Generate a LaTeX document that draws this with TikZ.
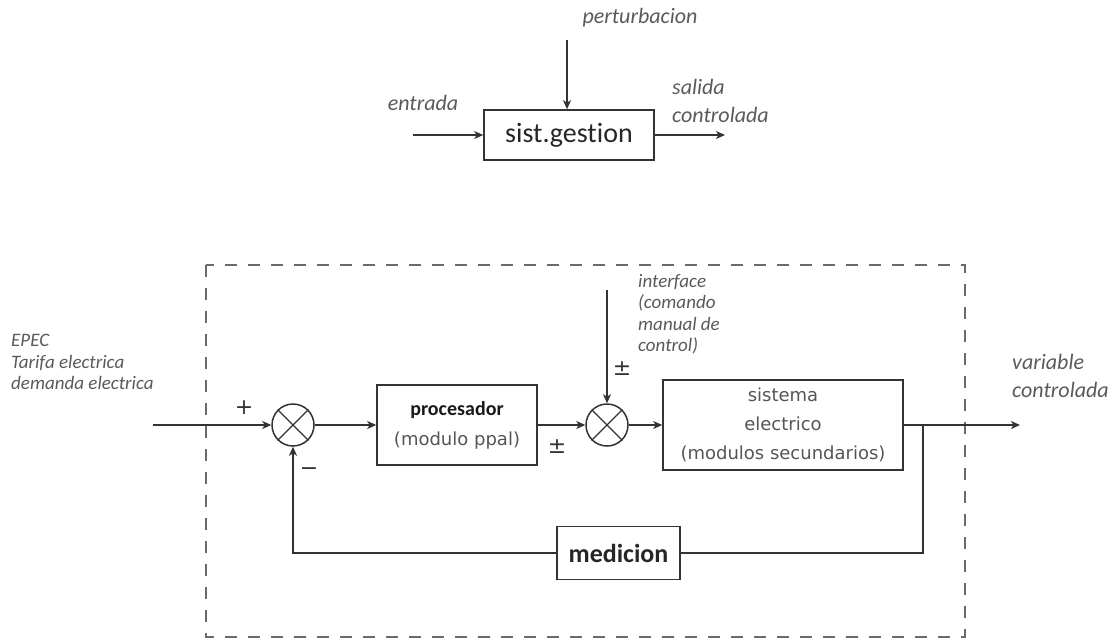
\documentclass[tikz,border=0pt]{standalone}
\usepackage{fontspec}
\setmainfont{Carlito}[Ligatures={NoCommon}]
\newfontfamily\dejavu{DejaVu Sans}
\usetikzlibrary{arrows.meta}
\definecolor{linec}{HTML}{333333}
\definecolor{labelc}{HTML}{5A5A5A}
\definecolor{boxtxt}{HTML}{555555}
\definecolor{dashc}{HTML}{6A6A6A}
\tikzset{
  wire/.style={draw=linec, line width=1.5pt},
  flow/.style={wire, -{Stealth[length=9pt,width=8pt,inset=2.5pt]}},
  blk/.style={draw=linec, line width=1.6pt, inner sep=0pt, align=center},
  sumj/.style={circle, draw=linec, line width=1.5pt, minimum size=42pt, inner sep=0pt},
  lbl/.style={text=labelc, font=\itshape, inner sep=0pt, align=left},
  sign/.style={text=linec, font=\dejavu\fontsize{22}{22}\selectfont, inner sep=0pt},
  frame/.style={draw=dashc, line width=2pt, dash pattern=on 12pt off 11pt}
}
\begin{document}
\begin{tikzpicture}[x=1pt,y=-1pt]
\useasboundingbox (0,0) rectangle (1115,640);

% --- upper block: general management system ---
\node[blk, minimum width=170pt, minimum height=50pt,
      font=\fontsize{28}{28}\selectfont, text=black!85] (sg) at (569,135) {sist.gestion};
\coordinate (ein) at (413,135);
\coordinate (sout) at (725,135);
\coordinate (ptop) at (567,40);
\draw[flow] (ein) -- (sg.west);
\draw[flow] (sg.east) -- (sout);
\draw[flow] (ptop) -- (sg.north -| ptop);
\node[lbl, font=\itshape\fontsize{22}{22}\selectfont] (lent) at (423,103) {entrada};
\node[lbl, font=\itshape\fontsize{22}{22}\selectfont] (lper) at (640,18) {perturbacion};
\node[lbl, anchor=west, font=\itshape\fontsize{22}{28}\selectfont] (lsal) at (672,101) {salida\\controlada};

% --- lower diagram: closed control loop ---
\draw[frame] (206,265) rectangle (965,637);

\node[sumj] (s1) at (293,425) {};
\node[sumj] (s2) at (607,425) {};
\foreach \s in {s1,s2}{
  \draw[linec, line width=1.2pt] (\s.north east) -- (\s.south west);
  \draw[linec, line width=1.2pt] (\s.north west) -- (\s.south east);
}

\node[blk, minimum width=160pt, minimum height=80pt,
      font=\dejavu\fontsize{18}{30}\selectfont, text=boxtxt] (proc) at (457,425)
  {{\rmfamily\bfseries\fontsize{20}{20}\selectfont\color{black!90}procesador}\\(modulo ppal)};
\node[blk, minimum width=240pt, minimum height=90pt,
      font=\dejavu\fontsize{18}{29}\selectfont, text=boxtxt] (sys) at (783,425)
  {sistema\\electrico\\(modulos secundarios)};
\node[blk, minimum width=123pt, minimum height=53pt,
      font=\bfseries\fontsize{26}{26}\selectfont, text=black!85] (med) at (618.5,553) {medicion};

\coordinate (in) at (153,425);
\coordinate (out) at (1020,425);
\coordinate (br) at (923,425);
\coordinate (itop) at (607,290);

\draw[flow] (in) -- (s1.west);
\draw[flow] (s1.east) -- (proc.west);
\draw[flow] (proc.east) -- (s2.west);
\draw[flow] (s2.east) -- (sys.west);
\draw[flow] (sys.east) -- (out);
\draw[flow] (itop) -- (s2.north);
\draw[wire] (br) |- (med.east);
\draw[flow] (med.west) -| (s1.south);

% signs at the summing junctions
\node[sign] (p1) at (244,408) {+};
\node[sign] (m1) at (309,472) {−};
\node[sign] (pm1) at (557,447) {±};
\node[sign] (pm2) at (622,369) {±};

% signal labels
\node[lbl, anchor=west, font=\itshape\fontsize{19}{21.5}\selectfont] (lepec) at (11,362)
  {EPEC\\Tarifa electrica\\demanda electrica};
\node[lbl, anchor=west, font=\itshape\fontsize{19}{21.5}\selectfont] (lint) at (638,314.5)
  {interface\\(comando\\manual de\\control)};
\node[lbl, anchor=west, font=\itshape\fontsize{22}{28}\selectfont] (lvar) at (1012,376)
  {variable\\controlada};
\end{tikzpicture}
\end{document}
